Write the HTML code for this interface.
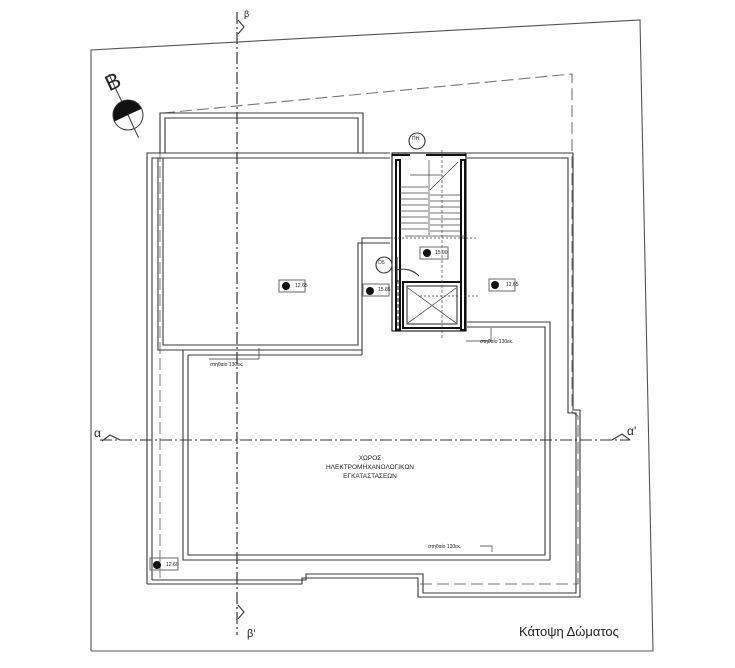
<!DOCTYPE html>
<html><head><meta charset="utf-8"><style>
html,body{margin:0;padding:0;background:#fff;}
svg{display:block;}
text{font-family:"Liberation Sans",sans-serif;fill:#222;}
</style></head><body>
<svg width="735" height="668" viewBox="0 0 735 668" xmlns="http://www.w3.org/2000/svg">
<g fill="none" stroke="#3a3a3a" stroke-width="1.1">
<polyline points="91,651 91,50 640,20 653,651 91,651" stroke="#555"/>
<polyline points="163,113 572,74 572,412 578,416 578,584" stroke-dasharray="12,5" stroke="#777"/>
<line x1="160" y1="118" x2="160" y2="580" stroke-dasharray="12,4" stroke="#888"/>
<line x1="420" y1="584" x2="578" y2="584" stroke-dasharray="12,5" stroke="#777"/>
<polyline points="160,153 160,113 363,113 363,153"/>
<polyline points="165,153 165,118 358,118 358,153"/>
<polyline points="147,584 147,153 390,153" />
<polyline points="152,580 152,158 390,158"/>
<polyline points="467,153 573,153 573,410 580,410 580,597 418,597 418,578 302,578 302,584 147,584"/>
<polyline points="467,158 568,158 568,413 576,413 576,593 423,593 423,574 306,574 306,580 152,580"/>
<line x1="306" y1="574" x2="418" y2="574"/>
<polyline points="163,158 163,345 358,345 358,243 390,243"/>
<polyline points="158,158 158,350 362,350 362,238 390,238"/>
<polyline points="183,350 183,560 550,560 550,322 467,322"/>
<polyline points="188,355 188,555 545,555 545,327 467,327"/>
<line x1="188" y1="355" x2="362" y2="355"/>
<line x1="362" y1="350" x2="362" y2="355"/>
<g stroke="#111" stroke-width="2">
<rect x="396" y="160" width="4" height="170"/>
<rect x="461" y="160" width="4" height="170"/>
<line x1="392" y1="155" x2="410" y2="155"/>
<line x1="426" y1="155" x2="466" y2="155"/>
<rect x="403" y="282" width="58" height="46"/>
</g>
<rect x="392" y="153" width="74" height="178" stroke="#111"/>
<line x1="408" y1="288" x2="456" y2="323" stroke="#333" stroke-width=".7"/>
<line x1="456" y1="288" x2="408" y2="323" stroke="#333" stroke-width=".7"/>
<rect x="407" y="286" width="50" height="38" stroke="#333"/>
<g stroke="#444" stroke-width=".7">
<line x1="400" y1="187" x2="428" y2="187"/><line x1="400" y1="193" x2="428" y2="193"/>
<line x1="400" y1="199" x2="428" y2="199"/><line x1="400" y1="205" x2="428" y2="205"/>
<line x1="400" y1="211" x2="428" y2="211"/><line x1="400" y1="217" x2="428" y2="217"/>
<line x1="400" y1="223" x2="428" y2="223"/><line x1="400" y1="229" x2="428" y2="229"/>
<line x1="430" y1="195" x2="460" y2="195"/><line x1="430" y1="201" x2="460" y2="201"/>
<line x1="430" y1="207" x2="460" y2="207"/><line x1="430" y1="213" x2="460" y2="213"/>
<line x1="430" y1="219" x2="460" y2="219"/><line x1="430" y1="225" x2="460" y2="225"/>
<line x1="430" y1="231" x2="460" y2="231"/>
<line x1="429" y1="160" x2="429" y2="235"/>
<line x1="430" y1="190" x2="458" y2="162"/>
<line x1="410" y1="175" x2="442" y2="175"/>
<line x1="405" y1="236" x2="465" y2="236"/>
<line x1="442" y1="150" x2="442" y2="340" stroke-dasharray="3,2"/>
<line x1="378" y1="238" x2="478" y2="238" stroke-dasharray="2,2"/>
<line x1="420" y1="296" x2="478" y2="296" stroke-dasharray="2,2"/>
</g>
<path d="M397,270 A22,22 0 0 1 419,276" stroke="#333"/>
<line x1="397" y1="257" x2="397" y2="282"/>
<line x1="398" y1="280" x2="398" y2="330" stroke-dasharray="4,2"/>
<polyline points="209,359 259,359 259,348" stroke-width=".7"/>
<polyline points="466,341 491,341 491,328" stroke-width=".7"/>
<polyline points="480,546 492,546 492,552" stroke-width=".7"/>
<line x1="237" y1="12" x2="237" y2="635" stroke="#333" stroke-width="1.2" stroke-dasharray="12,3,2,3"/>
<line x1="100" y1="440" x2="630" y2="440" stroke="#333" stroke-width="1" stroke-dasharray="12,3,2,3"/>
<polyline points="238,20 244,27 238,34" stroke="#333"/>
<polyline points="238,605 244,612 238,619" stroke="#333"/>
<polyline points="102,441 110,435 120,440" stroke="#333"/>
<polyline points="612,440 622,434 630,440" stroke="#333"/>
<circle cx="417" cy="141" r="8" stroke="#333"/>
<circle cx="384" cy="265" r="8" stroke="#333"/>
<g stroke="#777"><rect x="279" y="280" width="26" height="12"/><rect x="363" y="284" width="26" height="12"/><rect x="420" y="247" width="28" height="12"/><rect x="489" y="279" width="26" height="12"/><rect x="150" y="558" width="28" height="12"/></g>
</g>
<g fill="#111">
<circle cx="286" cy="286" r="4"/><circle cx="370" cy="291" r="4"/><circle cx="427" cy="253" r="4"/><circle cx="495" cy="285" r="4"/><circle cx="157" cy="565" r="4"/>
</g>
<g transform="translate(128,115) rotate(-25)">
<line x1="0" y1="-45" x2="0" y2="25" stroke="#333"/>
<path d="M-15,0 A15,15 0 0 1 15,0 L0,0 Z" fill="#111"/>
<circle cx="0" cy="0" r="15" fill="none" stroke="#333"/>
<path d="M-15,0 L0,-15 L15,0 L8,0 L0,-8 L-8,0Z" fill="#111"/>
</g>
<text x="105" y="88" font-size="22" transform="rotate(-25 115 80)">B</text>
<g font-size="9">
<text x="244" y="17">β</text><text x="247" y="637" font-size="11">β'</text>
<text x="94" y="437" font-size="12">α</text><text x="627" y="435" font-size="12">α'</text>
</g>
<g font-size="5">
<text x="295" y="287">12.65</text><text x="378" y="291">15.85</text><text x="435" y="254">15.90</text><text x="506" y="286">12.65</text><text x="166" y="566">12.60</text>
<text x="210" y="366">στηθαίο 130εκ.</text><text x="480" y="343">στηθαίο 130εκ.</text><text x="428" y="548">στηθαίο 130εκ.</text>
<text x="412" y="140">ΠΗ</text><text x="378" y="264">Ô5</text>
</g>
<g font-size="6.5" text-anchor="middle">
<text x="370" y="460">ΧΩΡΟΣ</text>
<text x="370" y="469">ΗΛΕΚΤΡΟΜΗΧΑΝΟΛΟΓΙΚΩΝ</text>
<text x="370" y="478">ΕΓΚΑΤΑΣΤΑΣΕΩΝ</text>
</g>
<text x="519" y="636" font-size="13">Κάτοψη Δώματος</text>
</svg>
</body></html>
